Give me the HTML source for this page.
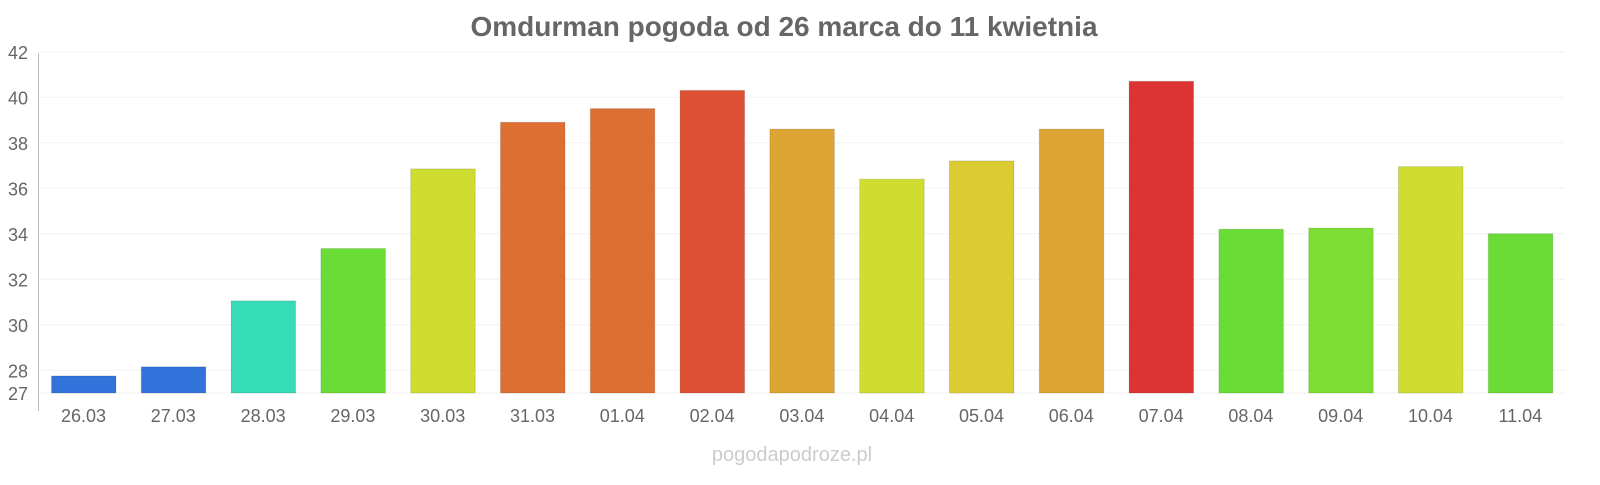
<!DOCTYPE html>
<html><head><meta charset="utf-8"><style>
body{margin:0;background:#fff;width:1600px;height:480px;overflow:hidden;font-family:"Liberation Sans",sans-serif}
</style></head><body>
<svg id="c" width="1600" height="480">
<text x="784" y="36" text-anchor="middle" font-size="28" font-weight="bold" fill="#666">Omdurman pogoda od 26 marca do 11 kwietnia</text>
<text x="792" y="461" text-anchor="middle" font-size="20" fill="#ccc">pogodapodroze.pl</text>
<g id="grid"></g><g id="bars"></g><g id="axes"></g>
</svg>
<script>
const categories=["26.03","27.03","28.03","29.03","30.03","31.03","01.04","02.04","03.04","04.04","05.04","06.04","07.04","08.04","09.04","10.04","11.04"];
const values=[27.75,28.15,31.05,33.35,36.85,38.9,39.5,40.3,38.6,36.4,37.2,38.6,40.7,34.2,34.25,36.95,34.0];
const colors=["#3173db","#3173db","#36dcb8","#69dd35","#cfdd31","#dd6f33","#dd6f33","#dd5033","#dda533","#cfdd31","#dccc33","#dda533","#dd3333","#69dd35","#7ddd33","#cfdd31","#69dd35"];
const yTicks=[27,28,30,32,34,36,38,40,42];
const NS="http://www.w3.org/2000/svg";
const y=v=>393-(v-27)*22.75;
const band=89.8,x0=38.5;
const x=i=>x0+i*band+13;
const svg=document.getElementById('c');
const grid=document.getElementById('grid'),bars=document.getElementById('bars'),axes=document.getElementById('axes');
function mk(t,a,p){const e=document.createElementNS(NS,t);for(const k in a)e.setAttribute(k,a[k]);p.appendChild(e);return e;}
yTicks.forEach(t=>{
 const l=mk('line',{x1:38,x2:1565,y1:y(t),y2:y(t),stroke:'#f2f2f2'},grid);
 
 
 const tx=mk('text',{x:28,y:y(t)+7,'text-anchor':'end','font-size':18,fill:'#666'},axes);
 tx.textContent=t;
 
 
});
const ax=mk('line',{x1:38.5,x2:38.5,y1:53,y2:411,stroke:'#bbb'},axes);


values.forEach((v,i)=>{
 const r=mk('rect',{x:x(i),y:y(v),width:64.5,height:393-y(v),fill:colors[i],stroke:'rgba(0,0,0,0.12)','stroke-width':1},bars);
 
 
 const t=mk('text',{x:x(i)+32,y:422,'text-anchor':'middle','font-size':18,fill:'#666'},axes);
 t.textContent=categories[i];
 
 
});
</script>
</body></html>
